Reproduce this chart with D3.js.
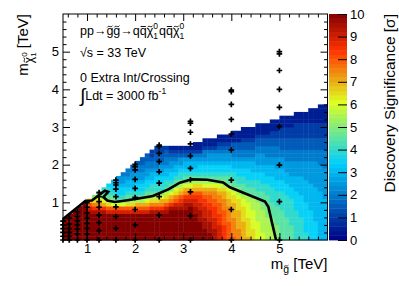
<!DOCTYPE html>
<html>
<head>
<meta charset="utf-8">
<script src="https://cdn.jsdelivr.net/npm/d3@7"></script>
<style>
  body { margin: 0; background: #fff; }
  svg { display: block; font-family: "Liberation Sans", Arial, Helvetica, sans-serif; }
</style>
</head>
<body>
<div id="chart"></div>
<script>
// discovery significance, one string per 0.1 TeV gluino-mass column starting at 0.5 TeV.
// each char is a 0.1 TeV neutralino-mass cell counted from 0; value = LEVELS.indexOf(char) / 2
var LEVELS = "0123456789ABCDEFGHIJK";
var cellX0 = 0.5, cellW = 0.1, cellH = 0.1;
var columns = [
  "KKKKKK",
  "KKKKKKK",
  "KKKKKKKK",
  "KKKKKKKKK",
  "KKKKKKKKKK",
  "KKKKKKKJIGD",
  "KKKKKKKJHFDA",
  "KKKKKKKJHFDB9",
  "KKKKKKKJHECA98",
  "KKKKKKKIGDB9887",
  "KKKKKKKIGCA98776",
  "KKKKKKKIGC9877655",
  "KKKKKKKIGCA8776554",
  "KKKKKKKIGDA98766544",
  "KKKKKKKIGDB987665543",
  "KKKKKKKIGEB9877655443",
  "KKKKKKKIGEB98776554433",
  "KKKKKKKIGECA98776554433",
  "KKKKKKKJHFDB988766544322",
  "KKKKKKKJHFDB9887765443322",
  "KKKKKKKJHFECA887765543322",
  "KKKKKKKJIGEDB988766544332",
  "KKKKKKKKJHFECA98776554321",
  "KKKKKKKKJIGFDCA9876654321",
  "KKKKKKKKJIHGEDBA887655321",
  "KKKKKKKKJJIHFECA987665321",
  "KKKKKKKKKJIHGECB987665321",
  "KKKKKKKJJIIHGEDB9876654211",
  "KKKKKJJJIIHHGEDB9877654211",
  "KKKJJJIIIHHGFECB98776544211",
  "KKJJJIIIHHGGFECB98776554211",
  "JJJIIIHHHGGFFECB98776554211",
  "IIIIHHHGGGFFEDCA987765543211",
  "HHHHGGGGFFFEEDBA987765543211",
  "GGGGGFFFFEEDDCA9987765543211",
  "GFFFFFEEEEDDCB998876654433111",
  "FFFEEEEEDDDCBA988776654433111",
  "EEEEEDDDDCCBA99887766544332111",
  "EDDDDDCCCCBB998877766544332111",
  "DDDCCCCCBBBA998877666544332111",
  "CCCCCBBBBBA99888776655544332111",
  "CCBBBBBBAA999887776655544332111",
  "BBBBBBAAA9998887766655444332111",
  "BBBBAA99998888777666554443322111",
  "AAAA9999988887776665554443322111",
  "999999998888877766655544333222111",
  "999999888888777666555444333222111",
  "999988888887776665555444333222111",
  "8888888877777666655554443332222111",
  "8888887777776666655554443332222111",
  "8877777777666666555554443332222111",
  "77777777666666655555544433322221111",
  "77777666666666555555544433322221111",
  "666666666666655555554444333222211111",
  "666666666665555555544444333222211111"
];

// 5 sigma contour
var contourX = [0.5, 0.97, 1.1, 1.37, 1.44, 1.34, 1.42, 1.58, 1.8, 2.01, 2.37, 2.7, 2.93, 3.18, 3.5, 3.83, 3.97, 4.7, 4.77, 4.93];
var contourY = [0.56, 1.04, 1.05, 1.31, 1.28, 1.14, 1.05, 1.01, 1.05, 1.09, 1.17, 1.35, 1.52, 1.61, 1.6, 1.53, 1.4, 1.02, 0.88, 0.0];

// simulated signal points
var sampleGluino = [0.5, 0.63, 0.8, 1.0, 1.25, 1.6, 2.0, 2.5, 3.15, 4.0, 5.0];
var sampleNeutralino = [
  [0, 0.1, 0.2, 0.3, 0.4, 0.5],
  [0, 0.1, 0.2, 0.3, 0.42, 0.58],
  [0, 0.16, 0.29, 0.4, 0.51, 0.62, 0.75],
  [0, 0.16, 0.31, 0.44, 0.58, 0.72, 0.87, 0.99],
  [0, 0.25, 0.46, 0.66, 0.87, 1.02, 1.15, 1.26],
  [0, 0.31, 0.62, 0.88, 1.15, 1.35, 1.46, 1.52, 1.59],
  [0, 0.4, 0.81, 1.13, 1.37, 1.61, 1.86, 1.95, 2.01],
  [0, 0.66, 1.15, 1.51, 1.81, 2.08, 2.3, 2.48, 2.52],
  [0, 0.64, 1.28, 1.6, 1.9, 2.23, 2.55, 2.86, 3.1, 3.15],
  [0, 0.81, 1.59, 2.39, 2.81, 3.2, 3.6, 3.94, 3.98],
  [0, 1.02, 1.99, 3.01, 3.52, 4.0, 4.5, 4.94, 5.0]
];

var xTicks = [1, 2, 3, 4, 5];
var yTicks = [1, 2, 3, 4, 5];
var zTicks = [0, 1, 2, 3, 4, 5, 6, 7, 8, 9, 10];

// palette stops (significance -> colour)
var paletteStops = [0, 3.4, 6.1, 8.4, 10];
var paletteColors = ["#000082", "#00cfff", "#deff1f", "#ff3300", "#820000"];

var W = 399, H = 286;
var frame = {left: 63, right: 327.5, top: 14, bottom: 240};
var bar = {left: 329, right: 347};

var svg = d3.select("#chart").append("svg")
    .attr("width", W)
    .attr("height", H);

var x = d3.scaleLinear().domain([0.5, 6]).range([frame.left, frame.right]);
var y = d3.scaleLinear().domain([0, 6]).range([frame.bottom, frame.top]);
var z = d3.scaleLinear().domain([0, 10]).range([frame.bottom, frame.top]);
var color = d3.scaleLinear().domain(paletteStops).range(paletteColors).clamp(true);

// heat map cells
var cells = [];
columns.forEach(function(col, i) {
  col.split("").forEach(function(ch, j) {
    cells.push({x0: cellX0 + i * cellW, y0: j * cellH, v: LEVELS.indexOf(ch) / 2});
  });
});
var cw = x(cellW) - x(0), ch = y(0) - y(cellH);
svg.append("g").selectAll("rect").data(cells).enter()
  .append("rect")
  .attr("x", function(d) { return x(d.x0); })
  .attr("y", function(d) { return y(d.y0 + cellH); })
  .attr("width", cw + 0.4)
  .attr("height", ch + 0.4)
  .attr("fill", function(d) { return color(d.v); });

// contour
var line = d3.line()
  .x(function(d) { return x(d[0]); })
  .y(function(d) { return y(d[1]); });
svg.append("path")
  .datum(contourX.map(function(v, i) { return [v, contourY[i]]; }))
  .attr("d", line)
  .attr("fill", "none")
  .attr("stroke", "#000")
  .attr("stroke-width", 2.6);

// markers
var pts = [];
sampleGluino.forEach(function(g, i) {
  sampleNeutralino[i].forEach(function(n) { pts.push([g, n]); });
});
svg.append("g").selectAll("path").data(pts).enter()
  .append("path")
  .attr("transform", function(d) { return "translate(" + x(d[0]) + "," + y(d[1]) + ")"; })
  .attr("d", "M-2.8,0H2.8M0,-2.8V2.8")
  .attr("stroke", "#000")
  .attr("stroke-width", 1.7);

// frame + axes (ticks inside, mirrored on top/right)
svg.append("rect")
  .attr("x", frame.left).attr("y", frame.top)
  .attr("width", frame.right - frame.left).attr("height", frame.bottom - frame.top)
  .attr("fill", "none").attr("stroke", "#000").attr("stroke-width", 1);

var xMinor = d3.range(0.6, 6.01, 0.2).filter(function(v) { return Math.abs(v - Math.round(v)) > 0.01; });
var yMinor = d3.range(0.2, 6.01, 0.2).filter(function(v) { return Math.abs(v - Math.round(v)) > 0.01; });

function put(axis, tx, ty) {
  var g = svg.append("g").attr("transform", "translate(" + tx + "," + ty + ")").call(axis);
  g.select(".domain").remove();
  g.selectAll("text").attr("font-size", 13).attr("fill", "#000");
  g.attr("font-family", null).attr("font-size", null);
  return g;
}
put(d3.axisBottom(x).tickValues(xTicks).tickFormat(d3.format("d")).tickSize(-7).tickSizeOuter(0).tickPadding(4), 0, frame.bottom);
put(d3.axisBottom(x).tickValues(xMinor).tickFormat("").tickSize(-3.5).tickSizeOuter(0), 0, frame.bottom);
put(d3.axisTop(x).tickValues(xTicks).tickFormat("").tickSize(-7).tickSizeOuter(0), 0, frame.top);
put(d3.axisTop(x).tickValues(xMinor).tickFormat("").tickSize(-3.5).tickSizeOuter(0), 0, frame.top);
put(d3.axisLeft(y).tickValues(yTicks).tickFormat(d3.format("d")).tickSize(-7).tickSizeOuter(0).tickPadding(4), frame.left, 0);
put(d3.axisLeft(y).tickValues(yMinor).tickFormat("").tickSize(-3.5).tickSizeOuter(0), frame.left, 0);
put(d3.axisRight(y).tickValues(yTicks).tickFormat("").tickSize(-7).tickSizeOuter(0), frame.right, 0);
put(d3.axisRight(y).tickValues(yMinor).tickFormat("").tickSize(-3.5).tickSizeOuter(0), frame.right, 0);

// colour bar
var levels = d3.range(0, 10, 0.2);
svg.append("g").selectAll("rect").data(levels).enter()
  .append("rect")
  .attr("x", bar.left)
  .attr("y", function(d) { return z(d + 0.2); })
  .attr("width", bar.right - bar.left)
  .attr("height", z(0) - z(0.2) + 0.4)
  .attr("fill", function(d) { return color(d + 0.1); });
put(d3.axisRight(z).tickValues(zTicks).tickFormat(d3.format("d")).tickSize(-9).tickSizeOuter(0).tickPadding(3), bar.right, 0);

// rich text: parts = [text, offset from baseline (px, down +), size, dx, accent]
// relative dy keeps the line one text chunk; accent "~" or "-" is drawn over the last char
function rich(g, base, parts, anchor) {
  var t = g.append("text").attr("y", base).attr("fill", "#000");
  if (anchor) t.attr("text-anchor", anchor);
  var cur = 0, idx = [], n = 0;
  parts.forEach(function(p) {
    var s = t.append("tspan").text(p[0]).attr("font-size", p[2]);
    if (p[1] !== cur) { s.attr("dy", p[1] - cur); cur = p[1]; }
    if (p[3]) s.attr("dx", p[3]);
    n += p[0].length;
    idx.push(n - 1);
  });
  parts.forEach(function(p, i) {
    if (!p[4]) return;
    var e = t.node().getExtentOfChar(idx[i]);
    var cx = e.x + e.width / 2, ty = base + p[1] - 0.68 * p[2];
    var w = 0.42 * p[2], a = 0.07 * p[2];
    var d = p[4] === "~"
      ? "M" + (cx - w / 2) + "," + (ty + a) + "C" + (cx - w / 6) + "," + (ty - 2.2 * a) + " " + (cx + w / 6) + "," + (ty + 2.2 * a) + " " + (cx + w / 2) + "," + (ty - a)
      : "M" + (cx - w / 2) + "," + ty + "H" + (cx + w / 2);
    g.append("path").attr("d", d).attr("fill", "none").attr("stroke", "#000")
      .attr("stroke-width", Math.max(0.8, 0.075 * p[2]));
  });
  return t;
}

// axis titles
var xt = svg.append("g").attr("transform", "translate(" + frame.right + ",269)");
rich(xt, 0, [["m", 0, 15], ["g", 4, 10.5, 0, "~"], [" [TeV]", 0, 15]], "end");

var yt = svg.append("g").attr("transform", "translate(28," + frame.top + ") rotate(-90)");
rich(yt, 0, [["m", 0, 15], ["\u03c7", 4.5, 12, 0, "~"], ["0", -1.5, 8], ["1", 8, 8, -4.4], [" [TeV]", 0, 15]], "end");

var zt = svg.append("g").attr("transform", "translate(395," + frame.top + ") rotate(-90)");
rich(zt, 0, [["Discovery Significance [\u03c3]", 0, 15.5]], "end");

// process label
var lg = svg.append("g").attr("transform", "translate(80,0)");
var f = 12.5, sf = 8.5;
rich(lg, 35, [
  ["pp\u2192", 0, f], ["g", 0, f, 0, "~"], ["g", 0, f, 0, "~"],
  ["\u2192q", 0, f], ["q", 0, f, 0, "-"], ["\u03c7", 0, f, 0, "~"],
  ["0", -6, sf], ["1", 4, sf, -4.7],
  ["q", 0, f, 1], ["q", 0, f, 0, "-"], ["\u03c7", 0, f, 0, "~"],
  ["0", -6, sf], ["1", 4, sf, -4.7]
]);
rich(lg, 56.5, [["\u221as = 33 TeV", 0, f]]);
rich(lg, 81.5, [["0 Extra Int/Crossing", 0, f]]);
rich(lg, 100, [["\u222b", 2, 19], ["Ldt = 3000 fb", 0, f], ["-1", -6, sf]]);
</script>
</body>
</html>
